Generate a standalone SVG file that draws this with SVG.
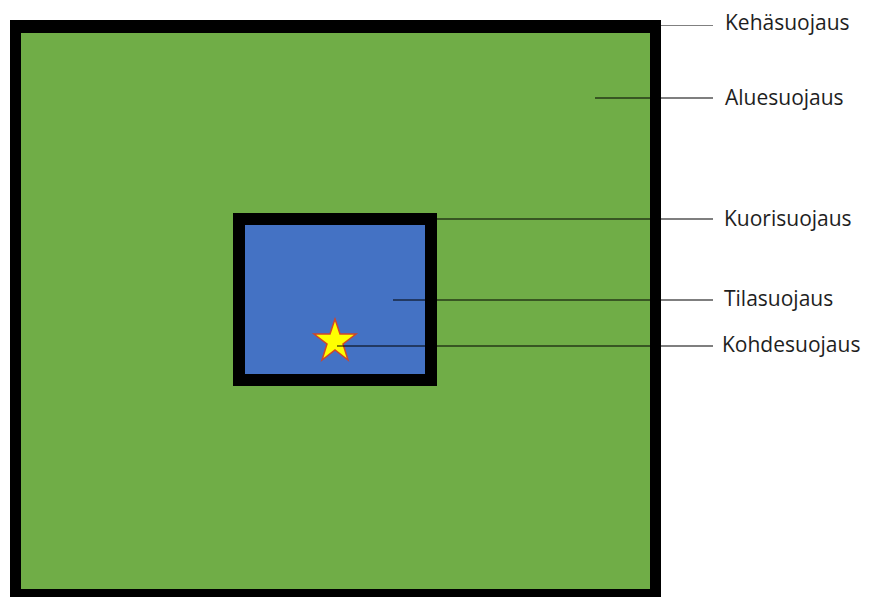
<svg xmlns="http://www.w3.org/2000/svg" width="873" height="597" viewBox="0 0 873 597">
<style>
.lbl{font-family:"Open Sans","Liberation Sans",sans-serif;font-size:21px;fill:#1e1e1e}
.ln{stroke:#000;stroke-width:1.2;fill:none}
</style>
<rect width="873" height="597" fill="#fff"/>
<g id="kehasuojaus-area">
<rect x="10" y="20" width="651" height="580" fill="#000"/>
<rect x="21" y="33" width="629" height="556" fill="#70ad47"/>
</g>
<g id="kuori-box">
<rect x="233" y="213" width="204" height="173" fill="#000"/>
<rect x="245" y="225" width="180" height="149" fill="#4472c4"/>
</g>
<g id="star">
<polygon points="335,319 340,334 356,334 343,344 348,360 335,350 322,360 327,344 314,334 330,334" fill="#ffff00" stroke="#d0452a" stroke-width="1.5" stroke-linejoin="miter"/>
</g>
<g id="connectors">
<line x1="661" y1="25.5" x2="713" y2="25.5" stroke="#808080" stroke-width="1.2"/>
<line class="ln" x1="595" y1="98" x2="713" y2="98"/>
<line class="ln" x1="437" y1="219" x2="713" y2="219"/>
<line class="ln" x1="393" y1="300" x2="713" y2="300"/>
<line class="ln" x1="337" y1="346" x2="713" y2="346"/>
</g>
<g id="labels">
<text class="lbl" x="725" y="30">Kehäsuojaus</text>
<text class="lbl" x="725" y="105">Aluesuojaus</text>
<text class="lbl" x="724" y="226">Kuorisuojaus</text>
<text class="lbl" x="724" y="306">Tilasuojaus</text>
<text class="lbl" x="722" y="352">Kohdesuojaus</text>
</g>
</svg>
